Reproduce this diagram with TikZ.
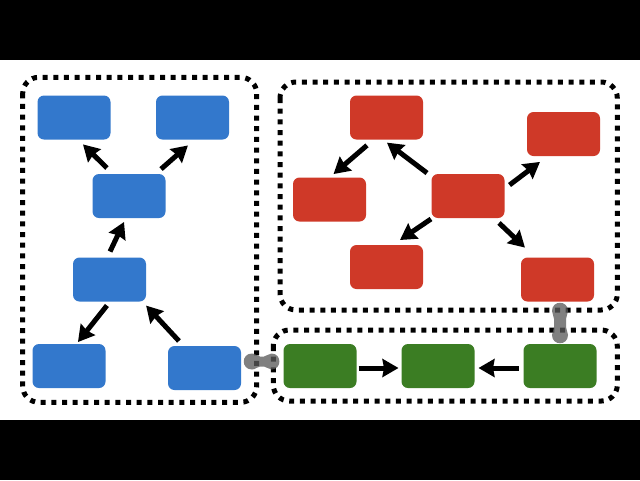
\documentclass[tikz,border=0pt]{standalone}
\usetikzlibrary{arrows.meta}
\definecolor{nblue}{RGB}{51,120,204}
\definecolor{nred}{RGB}{207,57,40}
\definecolor{ngreen}{RGB}{59,125,35}
\definecolor{lgrey}{RGB}{91,91,91}
\tikzset{
  x=1pt,y=-1pt,
  box/.style={rounded corners=6.5pt,minimum width=73pt,minimum height=44pt,inner sep=0pt,outer sep=0pt},
  bluebox/.style={box,fill=nblue},
  redbox/.style={box,fill=nred},
  greenbox/.style={box,fill=ngreen},
  group/.style={draw=black,line width=5pt,dash pattern=on 5pt off 5.67pt,rounded corners=16pt},
  arr/.style={-{Stealth[length=16pt,width=18pt,inset=1.5pt]},line width=5pt,black},
  link/.style={fill=lgrey,fill opacity=.77}
}
\begin{document}
\begin{tikzpicture}
\useasboundingbox (0,0) rectangle (640,480);
\fill[white] (0,0) rectangle (640,480);
\fill[black] (0,0) rectangle (640,60);
\fill[black] (0,420) rectangle (640,480);
% groups
\draw[group] (22.7,77.3) rectangle (256.7,402.3);
\draw[group] (280,82) rectangle (617.3,310);
\draw[group] (273.3,330) rectangle (617.3,401);
% blue
\node[bluebox] (a) at (74,117.5) {};
\node[bluebox] (b) at (192.5,117.5) {};
\node[bluebox] (c) at (129,196) {};
\node[bluebox] (d) at (109.5,279.5) {};
\node[bluebox] (e) at (69,366) {};
\node[bluebox] (f) at (204.5,368) {};
% red
\node[redbox] (h) at (386.5,117.5) {};
\node[redbox] (i) at (563.5,134) {};
\node[redbox] (j) at (329.5,199.5) {};
\node[redbox] (g) at (468,196) {};
\node[redbox] (k) at (386.5,267) {};
\node[redbox] (l) at (557.5,279.5) {};
% green
\node[greenbox] (m) at (320,366) {};
\node[greenbox] (n) at (438,366) {};
\node[greenbox] (o) at (560,366) {};
% arrows
\draw[arr,shorten <=8.5pt,shorten >=7pt] ([xshift=-16pt]c.north) -- ([xshift=4pt]a.south);
\draw[arr,shorten <=7.5pt,shorten >=9pt] ([xshift=26.4pt]c.north) -- ([xshift=2.25pt]b.south);
\draw[arr,shorten <=6.6pt,shorten >=4.4pt] ([xshift=-2.3pt]d.north) -- ([xshift=-3.1pt]c.south);
\draw[arr,shorten <=5.1pt,shorten >=2.5pt] ([xshift=.6pt]d.south) -- ([xshift=7.4pt]e.north);
\draw[arr,shorten <=6.8pt,shorten >=5.6pt] ([xshift=-20.9pt]f.north) -- ([xshift=32.8pt]d.south);
\draw[arr,shorten <=9pt,shorten >=5.3pt] ([xshift=-12.7pt]h.south) -- (j.north);
\draw[arr,shorten <=1.6pt,shorten >=5.2pt] ([xshift=-39.7pt]g.north) -- ([xshift=-3.7pt]h.south);
\draw[arr,shorten <=6.3pt,shorten >=9.8pt] ([yshift=7.2pt]g.east) -- ([xshift=-15.7pt]i.south);
\draw[arr,shorten <=1.8pt,shorten >=8.9pt] ([xshift=-35.5pt]g.south) -- ([xshift=6.1pt]k.north);
\draw[arr,shorten <=7.2pt,shorten >=14.4pt] ([xshift=25.8pt]g.south) -- ([xshift=-22.1pt]l.north);
\draw[arr,shorten <=2pt,shorten >=3pt] ([yshift=-2pt]m.east) -- ([yshift=-2pt]n.west);
\draw[arr,shorten <=5pt,shorten >=4pt] ([yshift=-2pt]o.west) -- ([yshift=-2pt]n.east);
% links
\fill[link] (252,353.5) .. controls (256,353.5) and (257,356.5) .. (260,356.5)
  -- (264,356.5) .. controls (267,356.5) and (268,353.5) .. (271.5,353.5)
  .. controls (282,353.5) and (282,369.5) .. (271.5,369.5)
  .. controls (268,369.5) and (267,366.5) .. (264,366.5)
  -- (260,366.5) .. controls (257,366.5) and (256,369.5) .. (252,369.5)
  .. controls (241,369.5) and (241,353.5) .. (252,353.5) -- cycle;
\fill[link] (552,311) .. controls (552,300) and (568,300) .. (568,311)
  .. controls (568,314) and (566,316) .. (566,319) -- (566,327)
  .. controls (566,330) and (568,332) .. (568,335)
  .. controls (568,346) and (552,346) .. (552,335)
  .. controls (552,332) and (554,330) .. (554,327) -- (554,319)
  .. controls (554,316) and (552,314) .. (552,311) -- cycle;
\end{tikzpicture}
\end{document}
